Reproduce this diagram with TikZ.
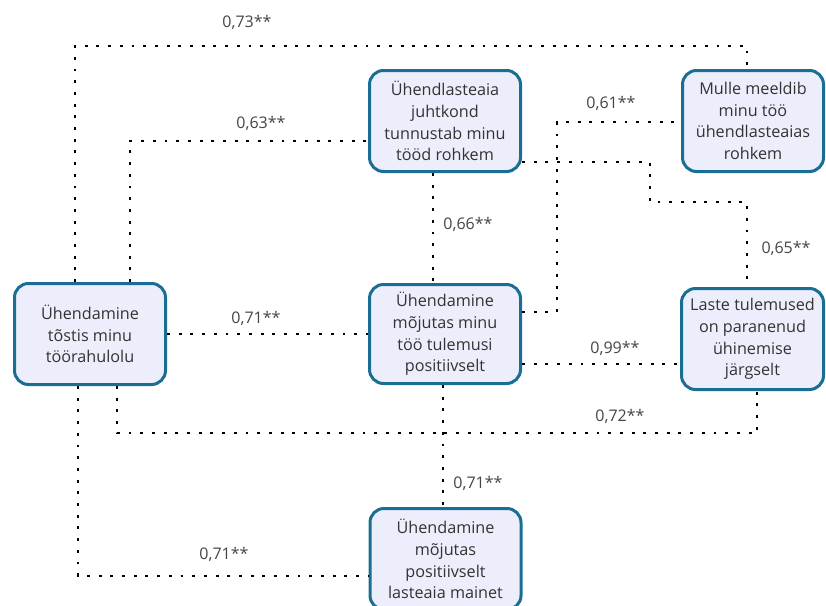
\documentclass[tikz,border=0pt]{standalone}
\usepackage{fontspec}
\setmainfont{Open Sans}
\definecolor{boxline}{HTML}{1B6E93}
\definecolor{boxfill}{HTML}{ECEFFB}
\definecolor{boxtxt}{HTML}{333333}
\definecolor{coeftxt}{HTML}{454545}
\begin{document}
\begin{tikzpicture}[x=1pt, y=-1pt,
  item/.style={draw=boxline, fill=boxfill, line width=3pt, rounded corners=14pt,
    inner sep=0pt, align=center, text=boxtxt, minimum width=151pt, minimum height=101pt,
    font=\fontsize{16.2}{21.7}\selectfont},
  link/.style={line width=2.9pt, dash pattern=on 2.9pt off 8.8pt},
  coef/.style={text=coeftxt, inner sep=0pt, font=\fontsize{16}{18}\selectfont}]
\useasboundingbox (0,0) rectangle (826,605);
\node[item] (rahul) at (90, 334) {Ühendamine\\tõstis minu\\töörahulolu}; % A
\node[item] (juht) at (445, 121) {Ühendlasteaia\\juhtkond\\tunnustab minu\\tööd rohkem}; % B
\node[item, minimum width=141pt] (meeldib) at (753, 121) {Mulle meeldib\\minu töö\\ühendlasteaias\\rohkem}; % C
\node[item, minimum height=99pt] (tulem) at (445, 334) {Ühendamine\\mõjutas minu\\töö tulemusi\\positiivselt}; % D
\node[item, minimum width=142pt] (laste) at (752.5, 339) {Laste tulemused\\on paranenud\\ühinemise\\järgselt}; % E
\node[item] (maine) at (445.5, 559) {Ühendamine\\mõjutas\\positiivselt\\lasteaia mainet}; % F
\draw[link] (rahul.north -| 75,0) |- (747,46) -- (meeldib.north -| 747,0); % rahul-meeldib
\node[coef] (k73) at (247, 22) {0,73**};
\draw[link] (rahul.north -| 130,0) |- (juht.west |- 0,141); % rahul-juht
\node[coef] (k63) at (261, 123) {0,63**};
\draw[link] (tulem.east |- 0,312) -| (557,122) -- (meeldib.west |- 0,122); % tulem-meeldib
\node[coef] (k61) at (611, 103) {0,61**};
\draw[link] (juht.east |- 0,162) -| (650,202) -| (laste.north -| 747,0); % juht-laste
\node[coef] (k65) at (786, 248) {0,65**};
\draw[link] (juht.south -| 433,0) -- (tulem.north -| 433,0); % juht-tulem
\node[coef] (k66) at (468, 224) {0,66**};
\draw[link] (rahul.east) -- (tulem.west |- rahul.east); % rahul-tulem
\node[coef] (k71a) at (256, 318) {0,71**};
\draw[link] (tulem.east |- 0,364) -- (laste.west |- 0,364); % tulem-laste
\node[coef] (k99) at (615, 348) {0,99**};
\draw[link] (rahul.south -| 117,0) |- (757,433) -- (laste.south -| 757,0); % rahul-laste
\node[coef] (k72) at (620, 416) {0,72**};
\draw[link] (tulem.south -| 443,0) -- (maine.north -| 443,0); % tulem-maine
\node[coef] (k71b) at (478, 483) {0,71**};
\draw[link] (rahul.south -| 78,0) |- (maine.west |- 0,576); % rahul-maine
\node[coef] (k71c) at (224, 554) {0,71**};
\end{tikzpicture}
\end{document}
